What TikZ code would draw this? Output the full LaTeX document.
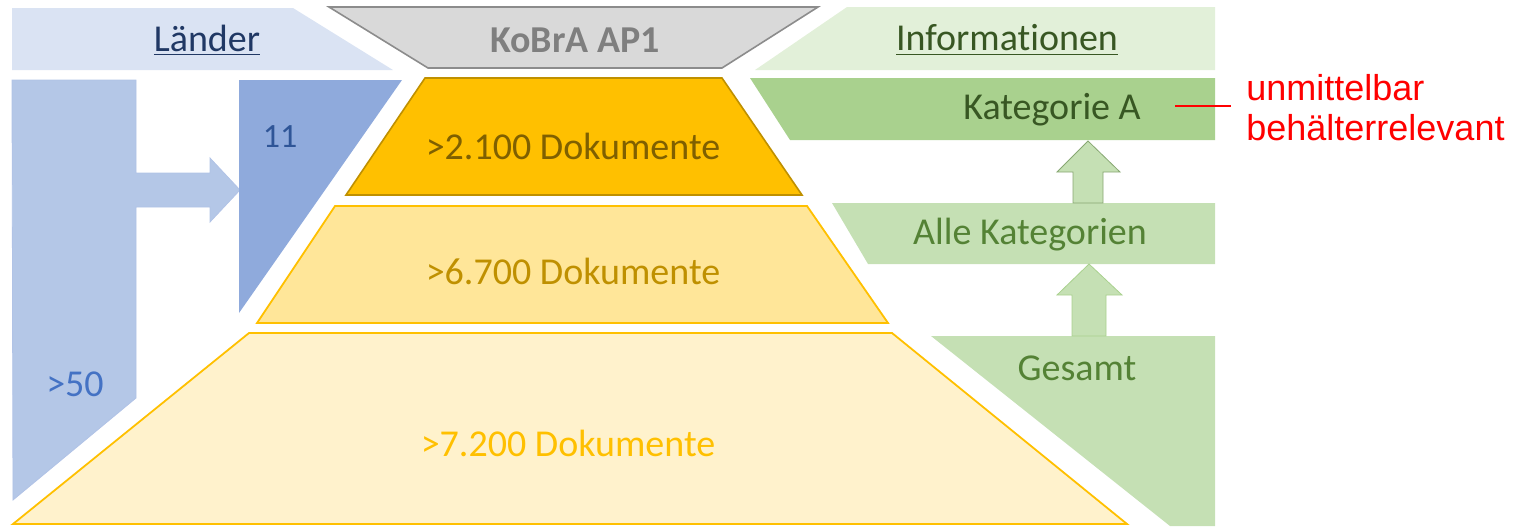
\documentclass[tikz,border=0pt]{standalone}
\usepackage{fontspec}
\setmainfont{Carlito}[Ligatures={NoCommon}]
\newfontfamily\notefont{Liberation Sans}
\usepackage{xcolor}

\definecolor{landerhead}{HTML}{DAE3F3}
\definecolor{landerbig}{HTML}{B4C7E7}
\definecolor{landermid}{HTML}{8FAADC}
\definecolor{landertext}{HTML}{203864}
\definecolor{bluetext}{HTML}{4472C4}
\definecolor{bluedark}{HTML}{2F5597}
\definecolor{kobrafill}{HTML}{D9D9D9}
\definecolor{kobraline}{HTML}{8C8C8C}
\definecolor{kobratext}{HTML}{7F7F7F}
\definecolor{gold}{HTML}{FFC000}
\definecolor{goldline}{HTML}{BF9000}
\definecolor{golddark}{HTML}{7F6000}
\definecolor{midyellow}{HTML}{FFE699}
\definecolor{lightyellow}{HTML}{FFF2CC}
\definecolor{infohead}{HTML}{E2F0D9}
\definecolor{greenmid}{HTML}{A9D18E}
\definecolor{greenlight}{HTML}{C5E0B4}
\definecolor{greendark}{HTML}{385723}
\definecolor{greentext}{HTML}{548235}

\tikzset{
    lbl/.style={font=\fontsize{19}{23}\selectfont, inner sep=0pt},
    notelbl/.style={font=\notefont\fontsize{18}{20}\selectfont, text=red, align=left, inner sep=0pt},
    blockarrow/.style={line width=0.4pt, line join=miter}
}

\begin{document}
\begin{tikzpicture}[x=0.5pt, y=-0.5pt]
    \useasboundingbox (0,0) rectangle (1526,526);

    % headers
    \fill[landerhead] (12,8) -- (293,8) -- (393,70) -- (12,70) -- cycle;
    \draw[kobraline, line width=0.8pt, fill=kobrafill] (329,7) -- (818,7) -- (722,68) -- (428,68) -- cycle;
    \fill[infohead] (847,7) -- (1215,7) -- (1215,70) -- (755,70) -- cycle;

    % countries
    \draw[blockarrow, draw=landermid!70, fill=landerbig] (12,80) -- (136,80) -- (136,173) -- (210,173) -- (210,158)
        -- (240,190) -- (210,222) -- (210,207) -- (136,207) -- (136,398) -- (13,500) -- cycle;
    \fill[landermid] (239,80) -- (402,80) -- (239,313) -- cycle;

    % documents
    \draw[goldline, line width=0.8pt, fill=gold] (425,78) -- (722,78) -- (802,195) -- (346,195) -- cycle;
    \draw[gold, line width=0.9pt, fill=midyellow] (335,206) -- (807,206) -- (888,323) -- (257,323) -- cycle;
    \draw[gold, line width=0.9pt, fill=lightyellow] (249,333) -- (892,333) -- (1127,524) -- (13,524) -- cycle;

    % information
    \fill[greenmid] (750,78) -- (1215,78) -- (1215,140) -- (790,140) -- cycle;
    \fill[greenlight] (832,203) -- (1215,203) -- (1215,264) -- (868,264) -- cycle;
    \fill[greenlight] (931,336) -- (1215,336) -- (1215,526) -- (1170,526) -- cycle;
    \draw[blockarrow, draw=greentext!70, fill=greenlight] (1088,141) -- (1120,172) -- (1103,172) -- (1103,203)
        -- (1073,203) -- (1073,172) -- (1057,172) -- cycle;
    \draw[blockarrow, draw=greenmid, fill=greenlight] (1089,264) -- (1122,295) -- (1106,295) -- (1106,336)
        -- (1072,336) -- (1072,295) -- (1057,295) -- cycle;

    % texts
    \node[lbl, text=landertext] (lander) at (207,40) {\underline{Länder}};
    \node[lbl, text=kobratext, font=\fontsize{19}{23}\selectfont\bfseries] (kobra) at (575,40) {KoBrA AP1};
    \node[lbl, text=greendark] (info) at (1007,40) {\underline{Informationen}};

    \node[lbl, text=bluetext] (many) at (75,384) {>50};
    \node[lbl, text=bluedark, font=\fontsize{17}{20}\selectfont] (eleven) at (280,137) {11};

    \node[lbl, text=golddark] (docsA) at (573,146) {>2.100 Dokumente};
    \node[lbl, text=goldline] (docsB) at (573,271) {>6.700 Dokumente};
    \node[lbl, text=gold] (docsC) at (568,443) {>7.200 Dokumente};

    \node[lbl, text=greendark] (catA) at (1052,110) {Kategorie A};
    \node[lbl, text=greentext] (catall) at (1030,235) {Alle Kategorien};
    \node[lbl, text=greentext] (total) at (1077,368) {Gesamt};

    \node[notelbl, anchor=west] (note) at (1246,108) {unmittelbar\\behälterrelevant};
    \coordinate (notetick) at (1175,106);
    \draw[red, line width=0.8pt, shorten >=7.5pt] (notetick) -- (notetick -| note.west);

\end{tikzpicture}
\end{document}
